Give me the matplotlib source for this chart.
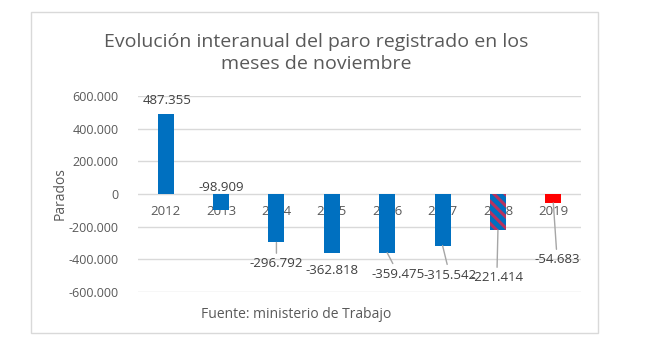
import matplotlib
matplotlib.use("Agg")
import matplotlib.pyplot as plt
from matplotlib.patches import Rectangle
from matplotlib.ticker import FuncFormatter

# data
years = ["2012", "2013", "2014", "2015", "2016", "2017", "2018", "2019"]
parados = [487355, -98909, -296792, -362818, -359475, -315542, -221414, -54683]
yticks = [-600000, -400000, -200000, 0, 200000, 400000, 600000]

# where excel left each data label (category offset, value) and which got a leader line
label_pos = [(0.02, 570000), (0.0, 37000), (0.0, -428000), (0.0, -466000),
             (0.2, -490000), (0.13, -496000), (-0.02, -514000), (0.07, -404000)]
leader = [False, False, True, False, True, True, True, True]

title = "Evolución interanual del paro registrado en los\nmeses de noviembre"
source = "Fuente: ministerio de Trabajo"

blue = "#0070C0"
grey_txt = "#595959"
plt.rcParams["font.family"] = ["Open Sans", "DejaVu Sans"]
plt.rcParams["hatch.linewidth"] = 2.2


def miles(v, pos=None):
    return f"{int(v):,}".replace(",", ".")


fig = plt.figure(figsize=(6.5, 3.47), dpi=100)
fig.patches.append(Rectangle((31 / 650, 1 - 333 / 347), 567 / 650, 321 / 347,
                             transform=fig.transFigure, fill=False,
                             edgecolor="#D9D9D9", lw=1))

ax = fig.add_axes([138 / 650, 55 / 347, 443 / 650, 196 / 347])
x = list(range(len(years)))
colors = [blue] * 7 + ["#FF0000"]
bars = ax.bar(x, parados, width=0.29, color=colors, zorder=3)
# 2018 bar: blue with red diagonal stripes
bars[6].set_hatch("\\\\\\")
bars[6].set_edgecolor("#B8325E")
bars[6].set_linewidth(0)

ax.set_xlim(-0.5, len(years) - 0.5)
ax.set_ylim(-600000, 600000)
ax.set_yticks(yticks)
ax.yaxis.set_major_formatter(FuncFormatter(miles))
ax.tick_params(axis="y", length=0, pad=14, labelsize=9, labelcolor=grey_txt)
ax.set_xticks([])
ax.grid(axis="y", color="#D9D9D9", lw=1, zorder=0)
for s in ax.spines.values():
    s.set_visible(False)
ax.set_ylabel("Parados", fontsize=10, color=grey_txt)
ax.yaxis.set_label_coords(-0.158, 0.5)

# category labels sit on the zero line, behind the bars
for i, yr in enumerate(years):
    ax.text(i, -110000, yr, ha="center", va="center", fontsize=9.5,
            color=grey_txt, zorder=1)

for i, v in enumerate(parados):
    dx, ly = label_pos[i]
    props = dict(arrowstyle="-", color="#A6A6A6", lw=1, shrinkA=1, shrinkB=0) if leader[i] else None
    ax.annotate(miles(v), xy=(i, v), xytext=(i + dx, ly), ha="center", va="center",
                fontsize=9.5, color="#404040", arrowprops=props, zorder=4,
                annotation_clip=False)

fig.text(316 / 650, 1 - 53 / 347, title, ha="center", va="center",
         fontsize=14, color=grey_txt, linespacing=1.35)
fig.text(296 / 650, 1 - 314 / 347, source, ha="center", va="center",
         fontsize=10, color=grey_txt)

fig.savefig("out.png", dpi=100, facecolor="white")
